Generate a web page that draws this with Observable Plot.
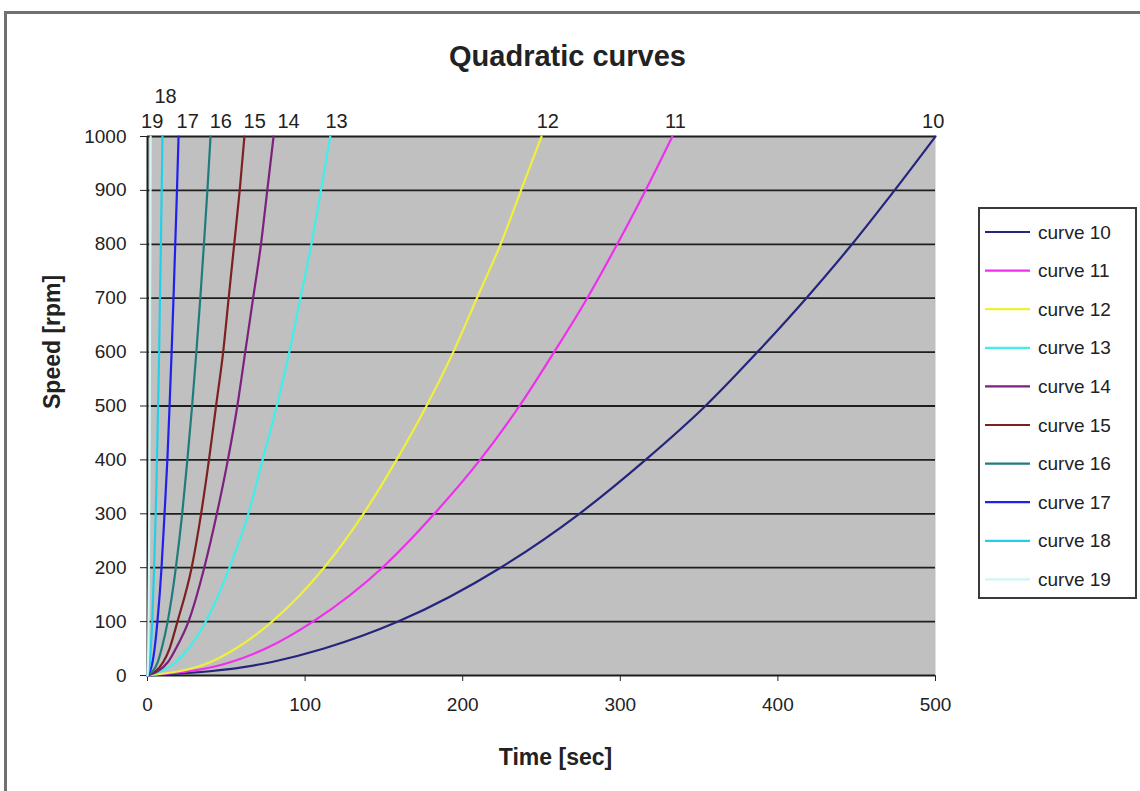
<!DOCTYPE html>
<html>
<head>
<meta charset="utf-8">
<script src="https://cdn.jsdelivr.net/npm/d3@7"></script>
<script src="https://cdn.jsdelivr.net/npm/@observablehq/plot@0.6"></script>
<style>
  body { margin: 0; background: #fff; font-family: "Liberation Sans", Arial, sans-serif; }
  #wrap { position: relative; width: 1140px; height: 791px; overflow: hidden; background: #fff; }
  #border { position: absolute; left: 4px; top: 11px; width: 1200px; height: 900px; border: 3px solid #707070; }
  #title { position: absolute; left: 0; width: 1135px; top: 42px; line-height: 1; text-align: center;
           font-weight: bold; font-size: 29px; color: #222; }
  #chart { position: absolute; left: 0; top: 0; }
  #legend { position: absolute; left: 978px; top: 207px; width: 159px; height: 392px;
            border: 2px solid #3a3a3a; background: #fff; box-sizing: border-box; }
</style>
</head>
<body>
<div id="wrap">
  <div id="border"></div>
  <div id="title">Quadratic curves</div>
  <div id="chart"></div>
  <div id="legend"></div>
</div>
<script>
// ---- data ----
const speeds = [0, 25, 50, 100, 200, 300, 400, 500, 600, 700, 800, 900, 1000];
const curveNames = ["curve 10", "curve 11", "curve 12", "curve 13", "curve 14",
                    "curve 15", "curve 16", "curve 17", "curve 18", "curve 19"];
const curveLabels = ["10", "11", "12", "13", "14", "15", "16", "17", "18", "19"];
// time [sec] at which each curve reaches the speeds above
const time10 = [0, 79, 112, 159, 224, 274, 316, 354, 387, 418, 447, 474, 500];
const time11 = [0, 53, 75, 105, 149, 182, 211, 236, 258, 279, 298, 316, 333];
const time12 = [0, 40, 56, 79, 112, 137, 158, 177, 194, 209, 224, 237, 250];
const time13 = [0, 18, 26, 37, 52, 64, 73, 82, 90, 97, 104, 110, 116];
const time14 = [0, 13, 18, 26, 36, 44, 51, 57, 62, 67, 72, 76, 80];
const time15 = [0, 10, 14, 19, 28, 34, 39, 43.5, 48, 51.5, 55, 58.5, 61.5];
const time16 = [0, 6.5, 9, 12.8, 18, 22, 25.3, 28.3, 31, 33.5, 35.8, 38, 40];
const time17 = [0, 3.2, 4.5, 6.3, 8.9, 10.8, 12.6, 14, 15.3, 16.5, 17.6, 18.7, 19.7];
const time18 = [0, 1.5, 2.1, 3, 4.2, 5.2, 6, 6.7, 7.4, 7.9, 8.5, 9, 9.5];
const time19 = [0, 0.3, 0.45, 0.6, 0.9, 1.1, 1.25, 1.4, 1.55, 1.65, 1.8, 1.9, 2];
const curveTimes = [time10, time11, time12, time13, time14, time15, time16, time17, time18, time19];
// time position of the end labels above the plot
const labelTimes = [498.5, 335, 254, 120, 89.5, 68, 46.5, 25.5, 11.5, 3];
const xTicks = [0, 100, 200, 300, 400, 500];
const yTicks = [0, 100, 200, 300, 400, 500, 600, 700, 800, 900, 1000];

// ---- styles ----
const curveColors = ["#25257e", "#ee30ee", "#f0f03c", "#40eeea", "#7e207e",
                     "#7e2020", "#207c7c", "#2020ee", "#20d0ea", "#d0f4f4"];

const rows = curveNames.flatMap((name, i) =>
  speeds.map((s, j) => ({curve: name, speed: s, time: curveTimes[i][j]})));
const labels = curveLabels.map((l, i) => ({label: l, t: labelTimes[i]}));

const chart = Plot.plot({
  width: 960,
  height: 791,
  marginLeft: 147,
  marginRight: 25,
  marginTop: 136,
  marginBottom: 116,
  style: {fontFamily: "'Liberation Sans', Arial, sans-serif", fontSize: "19px", color: "#222",
          background: "transparent", overflow: "visible"},
  x: {domain: [0, 500], ticks: xTicks, tickSize: 6, tickPadding: 16, tickFormat: d => String(d), label: null},
  y: {domain: [0, 1000], ticks: yTicks, tickSize: 7, tickPadding: 14, tickFormat: d => String(d), label: null},
  color: {domain: curveNames, range: curveColors},
  marks: [
    Plot.frame({fill: "#c0c0c0", stroke: "none"}),
    Plot.ruleY(yTicks, {stroke: "#1e1e1e", strokeWidth: 1.8}),
    Plot.ruleX([0], {stroke: "#1e1e1e", strokeWidth: 2}),
    Plot.line(rows, {x: "time", y: "speed", z: "curve", stroke: "curve",
                     strokeWidth: 2.2, curve: "monotone-x"}),
    Plot.text(labels, {filter: d => d.label !== "18", x: "t", frameAnchor: "top", lineAnchor: "middle",
                       dy: -15, text: "label", fontSize: 20, fill: "#222"}),
    Plot.text(labels, {filter: d => d.label === "18", x: "t", frameAnchor: "top", lineAnchor: "middle",
                       dy: -40, text: "label", fontSize: 20, fill: "#222"}),
    Plot.text(["Speed [rpm]"], {frameAnchor: "left", lineAnchor: "middle", dx: -95, dy: 3, rotate: -90,
                                text: d => d, fontWeight: "bold", fontSize: 23, fill: "#222"}),
    Plot.text(["Time [sec]"], {frameAnchor: "bottom", lineAnchor: "middle", dx: 14, dy: 82,
                               text: d => d, fontWeight: "bold", fontSize: 23, fill: "#222"})
  ]
});
document.getElementById("chart").appendChild(chart);

// ---- legend ----
const leg = d3.select("#legend").append("svg")
  .attr("width", 155).attr("height", 388)
  .style("font-family", "'Liberation Sans', Arial, sans-serif");
curveNames.forEach((name, i) => {
  const y = 23 + i * 38.6;
  leg.append("line").attr("x1", 5).attr("x2", 50).attr("y1", y).attr("y2", y)
    .attr("stroke", curveColors[i]).attr("stroke-width", 2.2);
  leg.append("text").attr("x", 58).attr("y", y).attr("dy", "0.35em")
    .attr("font-size", 19).attr("fill", "#222").text(name);
});
</script>
</body>
</html>
